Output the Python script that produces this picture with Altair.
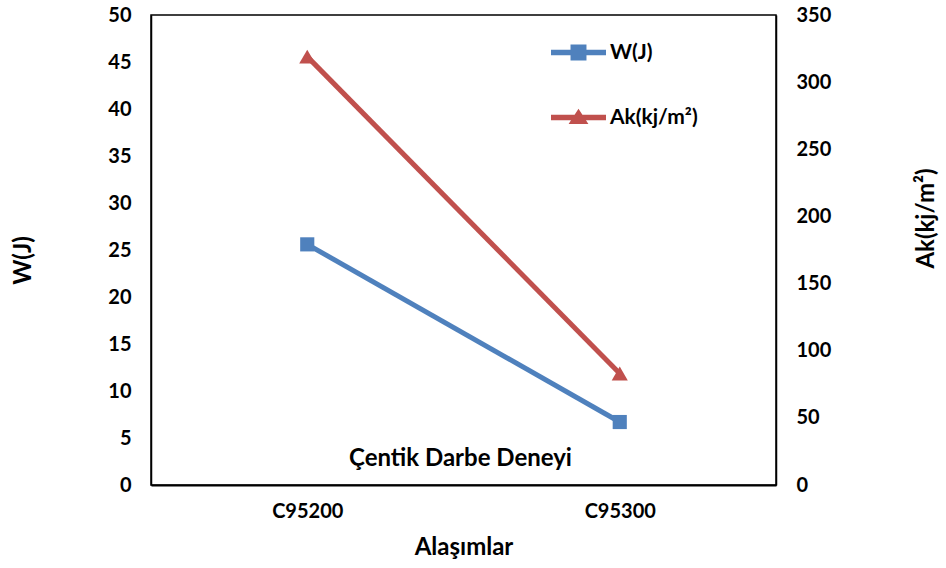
import altair as alt
import pandas as pd

# Impact test results for two alloys
alloys = ["C95200", "C95300"]
w_values = [25.6, 6.7]        # absorbed energy, W(J)
ak_values = [319.0, 83.0]     # impact toughness, Ak(kj/m²)

series_names = ["W(J)", "Ak(kj/m²)"]
series_colors = ["#4F81BD", "#C0504D"]

rows = []
for a, w in zip(alloys, w_values):
    rows.append({"alloy": a, "series": series_names[0], "value": w})
for a, k in zip(alloys, ak_values):
    rows.append({"alloy": a, "series": series_names[1], "value": k})
df = pd.DataFrame(rows)

FONT = "Lato"
W, H = 625, 470

base = alt.Chart(df)

x_enc = alt.X(
    "alloy:N",
    sort=alloys,
    title="Alaşımlar",
    axis=alt.Axis(
        labelAngle=0, ticks=False, domainColor="black", domainWidth=2,
        labelPadding=16, titlePadding=14,
    ),
)

color_scale = alt.Scale(domain=series_names, range=series_colors)

# legend glyphs: a line segment with the series marker on top of it
path_sq = "M-1,-0.1H1V0.1H-1Z M-0.29,-0.29H0.29V0.29H-0.29Z"
path_tri = "M-1,-0.1H1V0.1H-1Z M0,-0.32L0.36,0.24L-0.36,0.24Z"

legend = alt.Legend(
    title=None, orient="none", legendX=400, legendY=10,
    symbolSize=3025, symbolStrokeWidth=0, symbolOpacity=1, rowPadding=27, labelOffset=4,
    labelFont=FONT, labelFontSize=21, labelFontWeight="bold", labelColor="black",
)
color_leg = alt.Color("series:N", scale=color_scale, legend=legend)
shape_leg = alt.Shape(
    "series:N",
    scale=alt.Scale(domain=series_names, range=[path_sq, path_tri]),
    legend=legend,
)

y_w = alt.Y(
    "value:Q",
    scale=alt.Scale(domain=[0, 50], nice=False),
    title="W(J)",
    axis=alt.Axis(
        orient="left", values=list(range(0, 51, 5)), grid=False, ticks=False,
        domainColor="black", domainWidth=1.5, labelPadding=20, titlePadding=72,
        titleY=260 - 15,
    ),
)
y_ak = alt.Y(
    "value:Q",
    scale=alt.Scale(domain=[0, 350], nice=False),
    title="Ak(kj/m²)",
    axis=alt.Axis(
        orient="right", values=list(range(0, 351, 50)), grid=False, ticks=False,
        domainColor="black", domainWidth=1.5, labelPadding=20, titlePadding=108,
        titleAngle=270, titleY=218 - 15,
    ),
)

w_data = base.transform_filter(alt.datum.series == series_names[0])
ak_data = base.transform_filter(alt.datum.series == series_names[1])

w_layer = alt.layer(
    w_data.mark_line(strokeWidth=5).encode(x=x_enc, y=y_w, color=color_leg),
    w_data.mark_point(filled=True, size=200, opacity=1, shape="square").encode(
        x=x_enc, y=y_w, color=color_leg
    ),
    # invisible marks that carry the legend glyphs
    base.mark_point(filled=True, opacity=0).encode(
        x=x_enc, y=y_w, color=color_leg, shape=shape_leg
    ),
)
ak_layer = alt.layer(
    ak_data.mark_line(strokeWidth=5).encode(x=x_enc, y=y_ak, color=color_leg),
    ak_data.mark_point(filled=True, size=260, opacity=1, shape="triangle-up").encode(
        x=x_enc, y=y_ak, color=color_leg
    ),
)

caption = alt.Chart(pd.DataFrame({"t": ["Çentik Darbe Deneyi"]})).mark_text(
    font=FONT, fontSize=24, fontWeight="bold", color="black", baseline="middle"
).encode(text="t:N", x=alt.value(W / 2 - 3), y=alt.value(444))

chart = (
    alt.layer(w_layer, ak_layer, caption)
    .resolve_scale(y="independent")
    .properties(
        width=W, height=H,
        autosize=alt.AutoSizeParams(type="none"),
        padding={"left": 151, "top": 15, "right": 946 - 151 - W, "bottom": 568 - 15 - H},
        background="white",
    )
    .configure_view(stroke="black", strokeWidth=1.5)
    .configure_axis(
        labelFont=FONT, labelFontSize=20, labelFontWeight="bold", labelColor="black",
        titleFont=FONT, titleFontSize=24, titleFontWeight="bold", titleColor="black",
    )
)

chart.save("out.html", embed_options={"renderer": "svg", "actions": False})
